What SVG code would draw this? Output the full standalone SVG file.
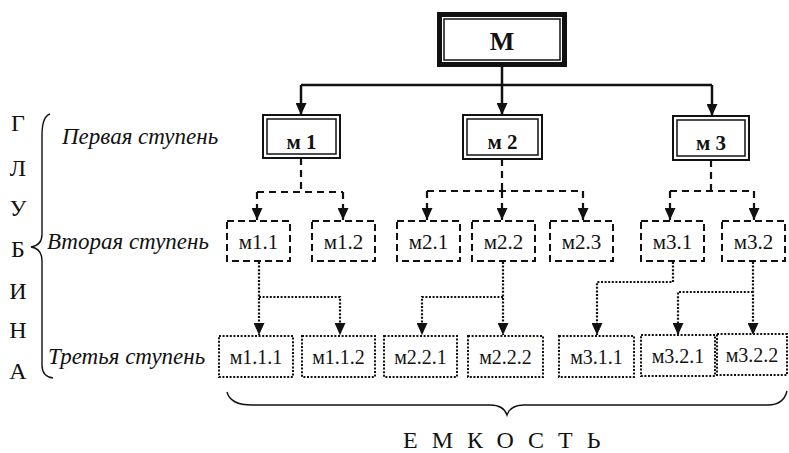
<svg xmlns="http://www.w3.org/2000/svg" width="789" height="453" viewBox="0 0 789 453">
<defs>
<marker id="arr" markerUnits="userSpaceOnUse" markerWidth="12" markerHeight="11" viewBox="0 0 12 11" refX="12" refY="5.5" orient="auto">
<path d="M0,0 L12,5.5 L0,11 Z" fill="#111"/>
</marker>
</defs>
<style>
.t{font-family:"Liberation Serif","DejaVu Serif","Times New Roman",serif;fill:#111}
.big{font-size:26px;font-weight:bold}
.l1{font-size:21px;font-weight:bold}
.l2{font-size:21px}
.l3{font-size:20px}
.lab{font-size:23px;font-style:italic}
.side{font-size:24px}
.thick{fill:#fff;stroke:#111;stroke-width:5}
.thin{fill:none;stroke:#111;stroke-width:1.5}
.dbl{fill:#fff;stroke:#111;stroke-width:2}
.dash{fill:#fff;stroke:#111;stroke-width:2;stroke-dasharray:7 4}
.dot{fill:#fff;stroke:#111;stroke-width:2;stroke-dasharray:2 1.6}
.c-solid{fill:none;stroke:#111;stroke-width:2.5}
.c-dash{fill:none;stroke:#111;stroke-width:2.2;stroke-dasharray:7 5}
.c-dot{fill:none;stroke:#111;stroke-width:2.2;stroke-dasharray:2 1.6}
.brace{fill:none;stroke:#111;stroke-width:1.4}
</style>
<rect width="789" height="453" fill="#fff"/>

<g id="connectors">
<path class="c-solid" d="M502,67 V85 M301,85 H712"/>
<path class="c-solid" d="M301,85 V115" marker-end="url(#arr)"/>
<path class="c-solid" d="M502,85 V115" marker-end="url(#arr)"/>
<path class="c-solid" d="M712,85 V116" marker-end="url(#arr)"/>

<path class="c-dash" d="M301,158 V192 M257,192 H343"/>
<path class="c-dash" d="M257,192 V220" marker-end="url(#arr)"/>
<path class="c-dash" d="M343,192 V220" marker-end="url(#arr)"/>
<path class="c-dash" d="M502,159 V191 M427,191 H583"/>
<path class="c-dash" d="M427,191 V220" marker-end="url(#arr)"/>
<path class="c-dash" d="M502,191 V220" marker-end="url(#arr)"/>
<path class="c-dash" d="M583,191 V220" marker-end="url(#arr)"/>
<path class="c-dash" d="M711,160 V191 M670,191 H754"/>
<path class="c-dash" d="M670,191 V220" marker-end="url(#arr)"/>
<path class="c-dash" d="M754,191 V220" marker-end="url(#arr)"/>

<path class="c-dot" d="M259,262 V335" marker-end="url(#arr)"/>
<path class="c-dot" d="M259,297 H340 V335" marker-end="url(#arr)"/>
<path class="c-dot" d="M503,262 V335" marker-end="url(#arr)"/>
<path class="c-dot" d="M503,297 H422 V335" marker-end="url(#arr)"/>
<path class="c-dot" d="M673,262 V282 H597 V335" marker-end="url(#arr)"/>
<path class="c-dot" d="M753,262 V335" marker-end="url(#arr)"/>
<path class="c-dot" d="M753,292 H678 V335" marker-end="url(#arr)"/>
</g>

<g font-family="Liberation Serif, DejaVu Serif, serif">
<g id="M">
<rect class="thick" x="439.5" y="14.5" width="125" height="50"/>
<rect class="thin" x="444" y="19" width="116" height="41"/>
<text class="t big" x="502" y="50" text-anchor="middle">М</text>
</g>

<g id="m1">
<rect class="dbl" x="263" y="115" width="77" height="43"/>
<rect class="thin" x="267" y="119" width="69" height="35"/>
<text class="t l1" x="301.5" y="149" text-anchor="middle">м 1</text>
</g>
<g id="m2">
<rect class="dbl" x="463" y="115" width="79" height="44"/>
<rect class="thin" x="467" y="119" width="71" height="36"/>
<text class="t l1" x="502.5" y="149" text-anchor="middle">м 2</text>
</g>
<g id="m3">
<rect class="dbl" x="673" y="116" width="76" height="44"/>
<rect class="thin" x="677" y="120" width="68" height="36"/>
<text class="t l1" x="711" y="150" text-anchor="middle">м 3</text>
</g>

<g id="m1.1"><rect class="dash" x="227" y="221" width="63" height="40"/><text class="t l2" x="258.5" y="249" text-anchor="middle">м1.1</text></g>
<g id="m1.2"><rect class="dash" x="312" y="221" width="63" height="40"/><text class="t l2" x="343.5" y="249" text-anchor="middle">м1.2</text></g>
<g id="m2.1"><rect class="dash" x="397" y="221" width="63" height="40"/><text class="t l2" x="428.5" y="249" text-anchor="middle">м2.1</text></g>
<g id="m2.2"><rect class="dash" x="472" y="221" width="63" height="40"/><text class="t l2" x="503.5" y="249" text-anchor="middle">м2.2</text></g>
<g id="m2.3"><rect class="dash" x="550" y="221" width="63" height="40"/><text class="t l2" x="581.5" y="249" text-anchor="middle">м2.3</text></g>
<g id="m3.1"><rect class="dash" x="641" y="221" width="63" height="40"/><text class="t l2" x="672.5" y="249" text-anchor="middle">м3.1</text></g>
<g id="m3.2"><rect class="dash" x="722" y="221" width="63" height="40"/><text class="t l2" x="753.5" y="249" text-anchor="middle">м3.2</text></g>

<g id="m1.1.1"><rect class="dot" x="219" y="336" width="74" height="41"/><text class="t l3" x="256" y="364" text-anchor="middle">м1.1.1</text></g>
<g id="m1.1.2"><rect class="dot" x="302" y="336" width="73" height="41"/><text class="t l3" x="338.5" y="364" text-anchor="middle">м1.1.2</text></g>
<g id="m2.2.1"><rect class="dot" x="384" y="336" width="73" height="41"/><text class="t l3" x="420.5" y="364" text-anchor="middle">м2.2.1</text></g>
<g id="m2.2.2"><rect class="dot" x="468" y="336" width="75" height="41"/><text class="t l3" x="505.5" y="364" text-anchor="middle">м2.2.2</text></g>
<g id="m3.1.1"><rect class="dot" x="559" y="336" width="75" height="41"/><text class="t l3" x="596.5" y="364" text-anchor="middle">м3.1.1</text></g>
<g id="m3.2.1"><rect class="dot" x="641" y="335" width="74" height="41"/><text class="t l3" x="678" y="363" text-anchor="middle">м3.2.1</text></g>
<g id="m3.2.2"><rect class="dot" x="717" y="334" width="70" height="41"/><text class="t l3" x="752" y="362" text-anchor="middle">м3.2.2</text></g>

<g id="labels">
<text class="t lab" x="62" y="144">Первая ступень</text>
<text class="t lab" x="47" y="249">Вторая ступень</text>
<text class="t lab" x="48" y="364">Третья ступень</text>
</g>

<g id="depth">
<text class="t side" x="18" y="131" text-anchor="middle">Г</text>
<text class="t side" x="18" y="176" text-anchor="middle">Л</text>
<text class="t side" x="18" y="216" text-anchor="middle">У</text>
<text class="t side" x="18" y="257" text-anchor="middle">Б</text>
<text class="t side" x="18" y="299" text-anchor="middle">И</text>
<text class="t side" x="18" y="338" text-anchor="middle">Н</text>
<text class="t side" x="18" y="379" text-anchor="middle">А</text>
<path class="brace" d="M50,114 C44,116 42,124 42,135 L42,234 C42,242 38,246 31,247 C38,248 42,252 42,261 L42,365 C42,372 45,377 53,378"/>
</g>

<g id="capacity">
<path class="brace" d="M227,392 C229,400 236,405 252,405 L490,405 C500,405 505,409 507,415 C509,409 514,405 524,405 L768,405 C780,405 785,399 787,391"/>
<text class="t side" x="403" y="448" letter-spacing="14">ЕМКОСТЬ</text>
</g>
</g>
</svg>
